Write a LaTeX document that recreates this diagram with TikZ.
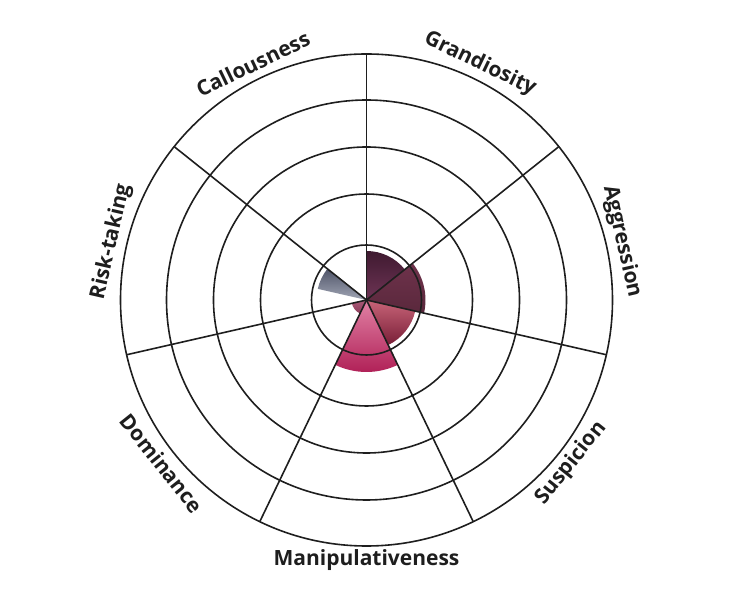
\documentclass[tikz,border=0pt]{standalone}
\usepackage{fontspec}
\setmainfont{Open Sans}
\usetikzlibrary{positioning}
\definecolor{myline}{RGB}{30,30,30}
\definecolor{grandA}{RGB}{63,26,48}
\definecolor{grandB}{RGB}{110,52,85}
\definecolor{aggrA}{RGB}{110,50,75}
\definecolor{aggrB}{RGB}{90,40,60}
\definecolor{suspA}{RGB}{200,100,120}
\definecolor{suspB}{RGB}{120,30,55}
\definecolor{maniA}{RGB}{225,130,165}
\definecolor{maniB}{RGB}{175,30,85}
\definecolor{domiA}{RGB}{170,90,120}
\definecolor{domiB}{RGB}{140,60,90}
\definecolor{riskA}{RGB}{80,85,105}
\definecolor{riskB}{RGB}{160,165,180}

\begin{document}
\begin{tikzpicture}[
  x=1pt,y=1pt,
  thick,
  ring/.style={draw=myline,line width=1.6pt},
  spoke/.style={draw=myline,line width=1.6pt},
  mylabel/.style={font=\bfseries\fontsize{21}{21}\selectfont,text=myline,inner sep=0pt},
  mywedge/.style 2 args={top color=#1,bottom color=#2,draw=none}
]
\useasboundingbox (0,0) rectangle (732,600);
\coordinate (centre) at (366.5,300);
% filled wedges (from, to, radius)
\shade[mywedge={grandA}{grandB}]
  (centre) -- ++(90:49) arc (90:38.57:49) -- cycle;
\shade[mywedge={aggrA}{aggrB}]
  (centre) -- ++(38.57:59) arc (38.57:-12.86:59) -- cycle;
\shade[mywedge={suspA}{suspB}]
  (centre) -- ++(-12.86:50) arc (-12.86:-64.29:50) -- cycle;
\shade[mywedge={maniA}{maniB}]
  (centre) -- ++(-64.29:72) arc (-64.29:-115.71:72) -- cycle;
\shade[mywedge={domiA}{domiB}]
  (centre) -- ++(-115.71:15) arc (-115.71:-167.14:15) -- cycle;
\shade[mywedge={riskA}{riskB}]
  (centre) -- ++(167.14:50) arc (167.14:141.43:50) -- cycle;
% rings and spokes
\foreach \r in {55,106,153,200,246}
  \draw[ring] (centre) circle (\r);
\foreach \a in {90,38.57,-12.86,-64.29,-115.71,-167.14,141.43}
  \draw[spoke] (centre) -- ++(\a:246);
% labels
\node[mylabel,rotate=-25.7] (grandiosity) at ([shift={(64.29:262)}]centre) {Grandiosity};
\node[mylabel,rotate=-77.1] (aggression) at ([shift={(12.86:262)}]centre) {Aggression};
\node[mylabel,rotate=51.4] (suspicion) at ([shift={(-38.57:262)}]centre) {Suspicion};
\node[mylabel] (manipulativeness) at ([shift={(-90:260)}]centre) {Manipulativeness};
\node[mylabel,rotate=-51.4] (dominance) at ([shift={(-141.43:262)}]centre) {Dominance};
\node[mylabel,rotate=77.1] (risktaking) at ([shift={(167.14:262)}]centre) {Risk-taking};
\node[mylabel,rotate=25.7] (callousness) at ([shift={(115.71:262)}]centre) {Callousness};
\end{tikzpicture}
\end{document}
